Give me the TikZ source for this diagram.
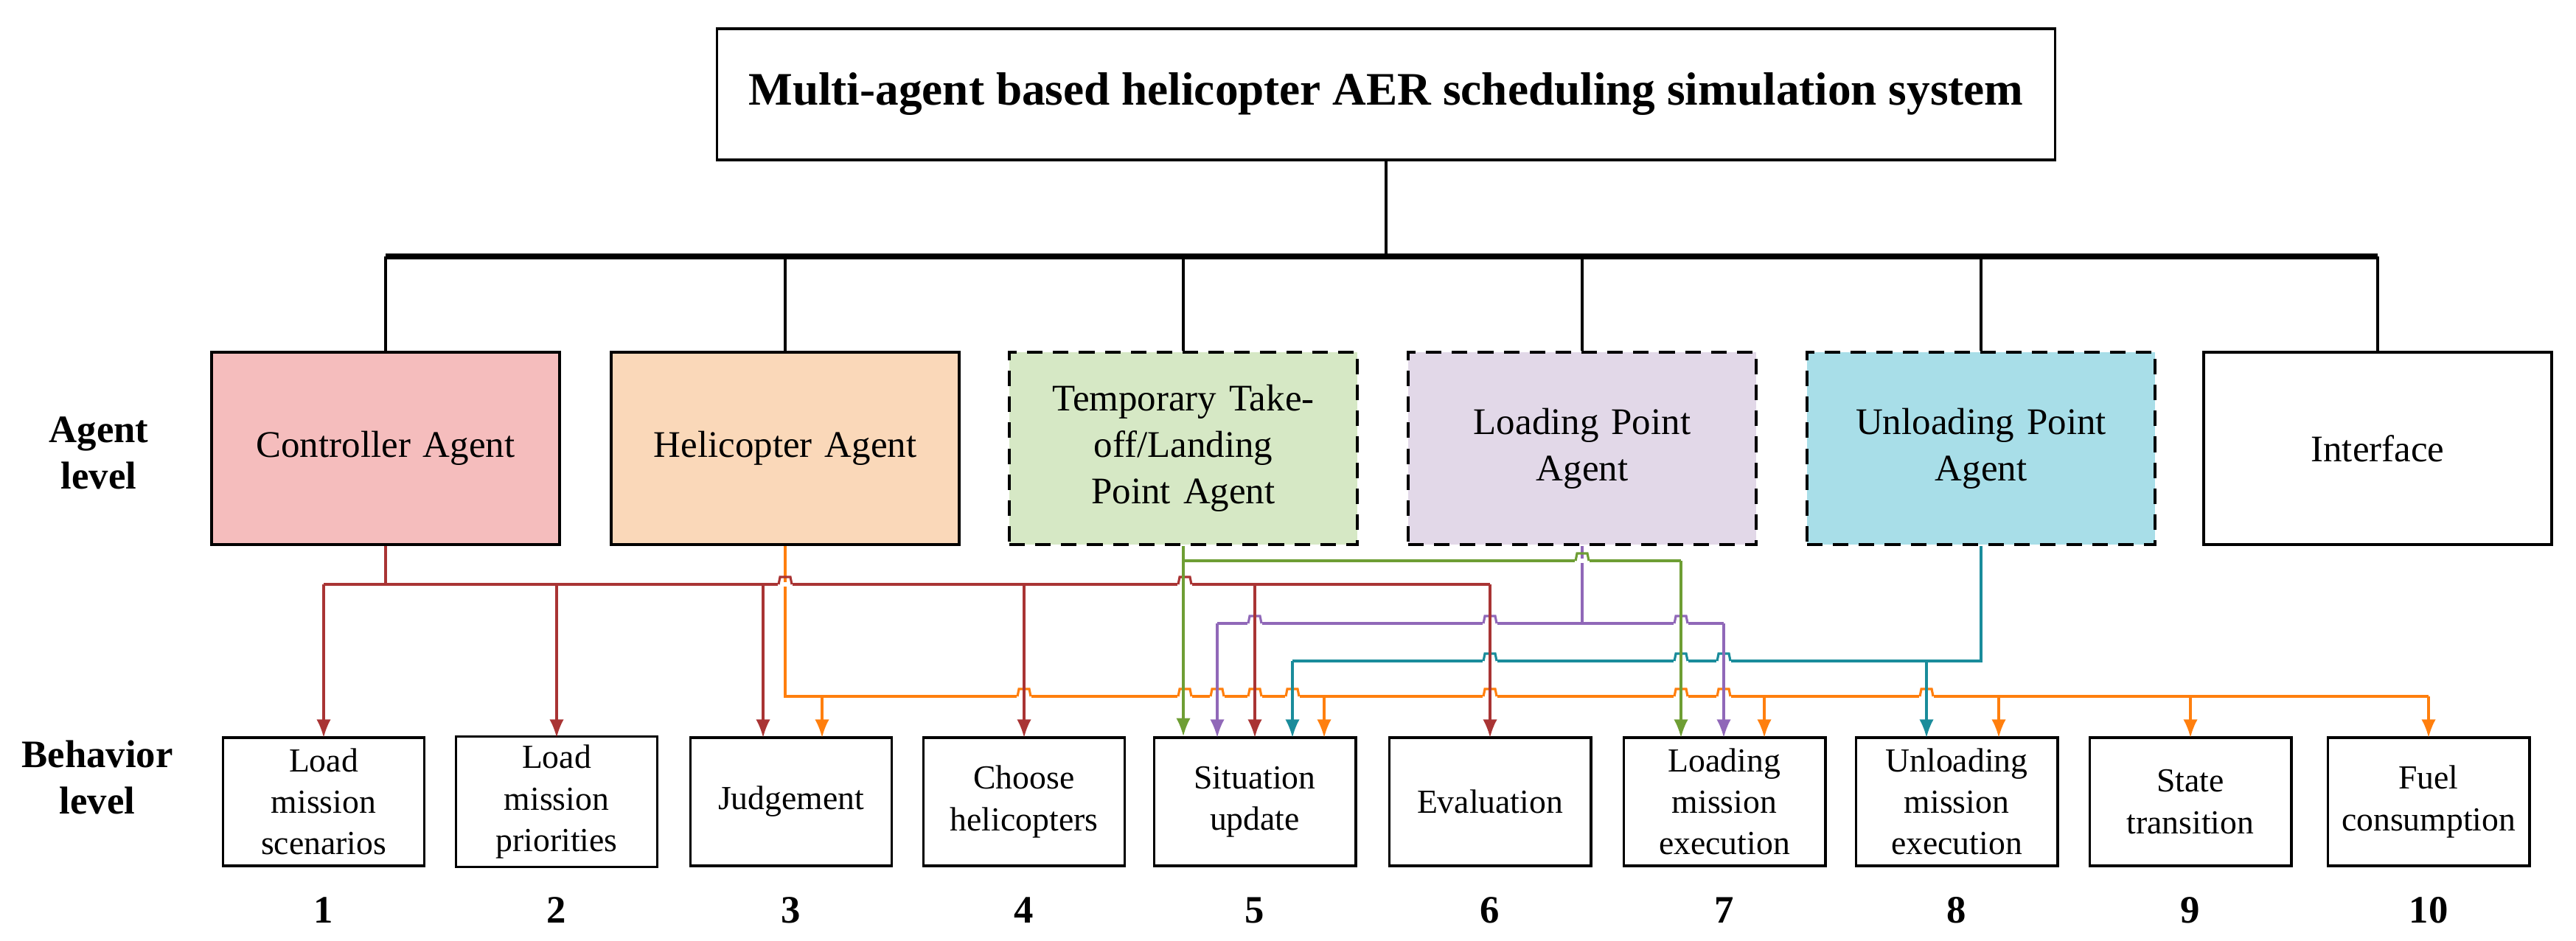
\documentclass[tikz,border=0pt]{standalone}
\usepackage{fontspec}
\setmainfont{Liberation Serif}
\usetikzlibrary{arrows.meta}

\definecolor{ctrlfill}{HTML}{F5BDBD}
\definecolor{helifill}{HTML}{FAD8B9}
\definecolor{tempfill}{HTML}{D6E8C5}
\definecolor{loadfill}{HTML}{E2D8E8}
\definecolor{unldfill}{HTML}{A8DEE8}
\definecolor{redc}{HTML}{A93434}
\definecolor{orgc}{HTML}{FF7F0E}
\definecolor{grnc}{HTML}{6E9E34}
\definecolor{purc}{HTML}{9068B8}
\definecolor{tealc}{HTML}{1A8C9B}

% bump of a horizontal line over a vertical one
\newcommand{\hop}[3]{%
  \fill[white] (#2-0.1,#3-0.03) rectangle (#2+0.1,#3+0.03);
  \draw[#1] (#2-0.09,#3) -- (#2-0.07,#3+0.1) -- (#2+0.07,#3+0.1) -- (#2+0.09,#3);}

\begin{document}
\begin{tikzpicture}[>={Latex[length=7pt,width=5.5pt]},
    tree/.style={line width=1.1pt},
    agent/.style={draw,line width=1pt,minimum width=4.72cm,minimum height=2.61cm,
      align=center,text width=4.4cm,font=\fontsize{14.5}{18}\selectfont},
    dashedagent/.style={agent,dashed,dash pattern=on 6pt off 4pt},
    behav/.style={draw,line width=1pt,minimum width=2.66cm,minimum height=1.74cm,
      align=center,text width=2.5cm,font=\fontsize{13}{16}\selectfont},
    lvl/.style={font=\fontsize{15}{18}\selectfont\bfseries,align=center},
    num/.style={font=\fontsize{15}{18}\selectfont\bfseries},
    link/.style={line width=0.9pt}]
    \useasboundingbox (0,0) rectangle (34.94,-12.76);

    % top node and agents
    \node[draw,line width=1.1pt,minimum width=18.15cm,minimum height=1.78cm,
      font=\fontsize{18}{20}\selectfont\bfseries] (sys) at (18.80,-1.28)
      {Multi-agent based helicopter AER scheduling simulation system};
    \node[agent,fill=ctrlfill] (ctrl) at (5.23,-6.085) {Controller Agent};
    \node[agent,fill=helifill] (heli) at (10.65,-6.085) {Helicopter Agent};
    \node[dashedagent,fill=tempfill] (temp) at (16.05,-6.085) {Temporary Take-\\off/Landing\\Point Agent};
    \node[dashedagent,fill=loadfill] (load) at (21.46,-6.085) {Loading Point\\Agent};
    \node[dashedagent,fill=unldfill] (unload) at (26.87,-6.085) {Unloading Point\\Agent};
    \node[agent] (iface) at (32.25,-6.085) {Interface};

    \coordinate (bus) at (18.80,-3.48);
    \draw[tree] (sys.south) -- (bus);
    \draw[line width=2pt] (ctrl.north |- bus) -- (iface.north |- bus);
    \foreach \a in {ctrl,heli,temp,load,unload,iface}
      \draw[tree] (\a.north |- bus) -- (\a.north);

    % behaviors
    \foreach \i/\x/\t in {1/4.39/Load\\mission\\scenarios, 2/7.55/Load\\mission\\priorities,
        3/10.73/Judgement, 4/13.89/Choose\\helicopters, 5/17.02/Situation\\update,
        6/20.21/Evaluation, 7/23.39/Loading\\mission\\execution,
        8/26.54/Unloading\\mission\\execution, 9/29.71/State\\transition,
        10/32.94/Fuel\\consumption} {
      \node[behav] (b\i) at (\x,-10.88) {\t};
      \node[num] (n\i) at (\x,-12.35) {\i};
    }
    \node[lvl] (agentlvl) at (1.34,-6.15) {Agent\\level};
    \node[lvl] (behavlvl) at (1.32,-10.55) {Behavior\\level};

    % horizontal buses
    \draw[link,redc] (ctrl.south) -- (5.23,-7.93);
    \draw[link,redc] (b1.north |- 0,-7.93) -- (b6.north |- 0,-7.93);
    \draw[link,orgc] (heli.south) -- (10.65,-9.45) -- (b10.north |- 0,-9.45);
    \draw[link,grnc] (16.07,-7.61) -- (22.80,-7.61);
    \draw[link,purc] (load.south) -- (21.46,-8.46);
    \draw[link,purc] (16.51,-8.46) -- (23.38,-8.46);
    \draw[link,tealc] (unload.south) -- (26.87,-8.97) -- (17.53,-8.97);

    % jumps
    \foreach \x in {10.65,16.07} {\hop{link,redc}{\x}{-7.93}}
    \foreach \x in {13.89,16.07,16.51,17.02,17.53,20.21,22.80,23.38,26.13} {\hop{link,orgc}{\x}{-9.45}}
    \hop{link,grnc}{21.46}{-7.61}
    \foreach \x in {17.02,20.21,22.80} {\hop{link,purc}{\x}{-8.46}}
    \foreach \x in {20.21,22.80,23.38} {\hop{link,tealc}{\x}{-8.97}}

    % drops
    \foreach \x in {4.39,7.55,10.35,13.89,17.02,20.21}
      \draw[link,redc,->] (\x,-7.93) -- (\x,-10.01);
    \foreach \x in {11.15,17.96,23.93,27.11,29.71,32.94}
      \draw[link,orgc,->] (\x,-9.45) -- (\x,-10.01);
    \draw[link,grnc,->] (temp.south) -- (temp.south |- b5.north);
    \draw[link,grnc,->] (22.80,-7.61) -- (22.80,-10.01);
    \foreach \x in {16.51,23.38}
      \draw[link,purc,->] (\x,-8.46) -- (\x,-10.01);
    \foreach \x in {17.53,26.13}
      \draw[link,tealc,->] (\x,-8.97) -- (\x,-10.01);
\end{tikzpicture}
\end{document}
